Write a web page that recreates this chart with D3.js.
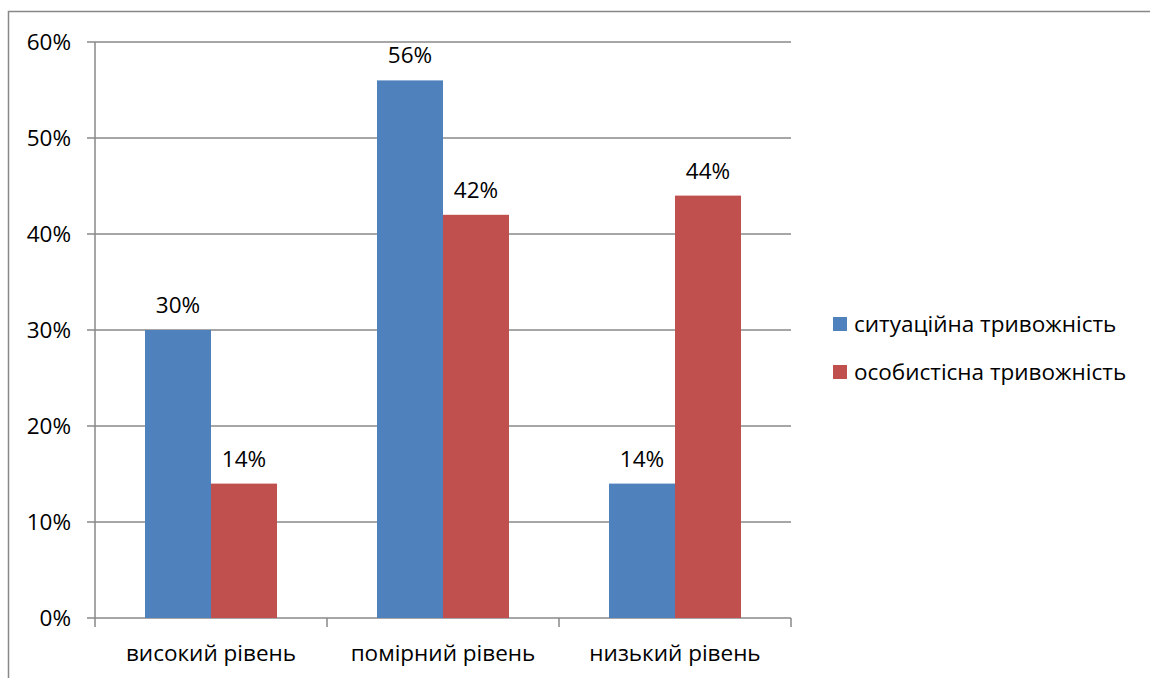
<!DOCTYPE html>
<html>
<head>
<meta charset="utf-8">
<script src="https://cdn.jsdelivr.net/npm/d3@7"></script>
<style>
  body { margin: 0; background: #fff; }
  text { font-family: "Open Sans", "Noto Sans", sans-serif; fill: #000; }
</style>
</head>
<body>
<div id="chart"></div>
<script>
const categories = ["високий рівень", "помірний рівень", "низький рівень"];
const seriesNames = ["ситуаційна тривожність", "особистісна тривожність"];
const situational = [30, 56, 14];
const personal = [14, 42, 44];
const yTicks = [0, 10, 20, 30, 40, 50, 60];
const colors = ["#4F81BD", "#C0504D"];

const W = 1150, H = 678;
const margin = { top: 42, left: 95, right: 359, bottom: 60 };
const width = W - margin.left - margin.right;
const height = H - margin.top - margin.bottom;
const fs = "22.5px";

const svg = d3.select("#chart").append("svg")
  .attr("width", W).attr("height", H);

// outer frame
svg.append("rect")
  .attr("x", 8.5).attr("y", 11.5)
  .attr("width", W).attr("height", H)
  .attr("fill", "none").attr("stroke", "#888").attr("stroke-width", 1.5);

const g = svg.append("g").attr("transform", `translate(${margin.left},${margin.top})`);

const x0 = d3.scaleBand().domain(categories).range([0, width]).paddingInner(0).paddingOuter(0);
const x1 = d3.scaleBand().domain([0, 1]).range([50, x0.bandwidth() - 50]);
const y = d3.scaleLinear().domain([0, 60]).range([height, 0]);

// gridlines
g.selectAll(".grid").data(yTicks).enter().append("line")
  .attr("x1", -8).attr("x2", width)
  .attr("y1", d => y(d)).attr("y2", d => y(d))
  .attr("stroke", "#888").attr("stroke-width", 1.5);

// y axis line
g.append("line").attr("x1", 0).attr("x2", 0).attr("y1", 0).attr("y2", height)
  .attr("stroke", "#888").attr("stroke-width", 1.5);

// y labels
g.selectAll(".ylab").data(yTicks).enter().append("text")
  .attr("x", -24).attr("y", d => y(d)).attr("dy", "0.35em")
  .attr("text-anchor", "end").style("font-size", fs)
  .text(d => d + "%");

// x ticks
const bounds = [0, ...categories.map(c => x0(c) + x0.bandwidth())];
g.selectAll(".xtick").data(bounds).enter().append("line")
  .attr("x1", d => d).attr("x2", d => d)
  .attr("y1", height).attr("y2", height + 9)
  .attr("stroke", "#888").attr("stroke-width", 1.5);

g.selectAll(".xlab").data(categories).enter().append("text")
  .attr("x", d => x0(d) + x0.bandwidth() / 2).attr("y", height + 43)
  .attr("text-anchor", "middle").style("font-size", fs)
  .text(d => d);

const series = [situational, personal];
series.forEach((vals, si) => {
  g.selectAll(".bar" + si).data(vals).enter().append("rect")
    .attr("x", (d, i) => x0(categories[i]) + x1(si))
    .attr("y", d => y(d))
    .attr("width", x1.bandwidth())
    .attr("height", d => height - y(d))
    .attr("fill", colors[si]);
  g.selectAll(".lab" + si).data(vals).enter().append("text")
    .attr("x", (d, i) => x0(categories[i]) + x1(si) + x1.bandwidth() / 2)
    .attr("y", d => y(d) - 17)
    .attr("text-anchor", "middle").style("font-size", fs)
    .text(d => d + "%");
});

// legend
const legend = svg.append("g").attr("transform", "translate(833,317)");
seriesNames.forEach((name, i) => {
  legend.append("rect").attr("x", 0).attr("y", i * 48).attr("width", 14).attr("height", 14)
    .attr("fill", colors[i]);
  legend.append("text").attr("x", 21).attr("y", i * 48 + 7).attr("dy", "0.35em")
    .style("font-size", fs).text(name);
});
</script>
</body>
</html>
